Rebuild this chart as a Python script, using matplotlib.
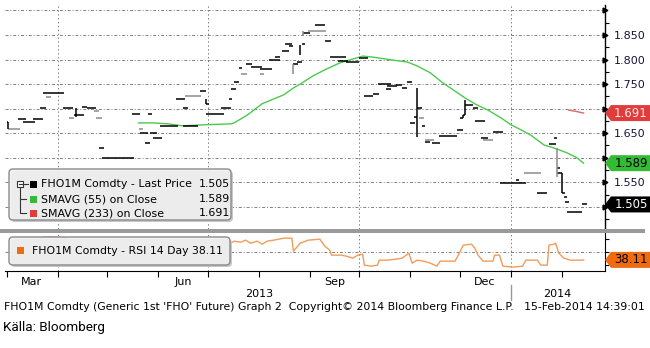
import numpy as np
import pandas as pd
import matplotlib
matplotlib.use("Agg")
from matplotlib import pyplot as plt
from matplotlib.patches import FancyBboxPatch, Rectangle, Polygon
import matplotlib.transforms as mtransforms

# FHO1M last price, drawn as short horizontal marks (gray = no trade)
seg_start = ["2013-03-01", "2013-03-02", "2013-03-08", "2013-03-11", "2013-03-17", "2013-03-21", "2013-03-23", "2013-03-25",
             "2013-04-04", "2013-04-08", "2013-04-11", "2013-04-16", "2013-04-19", "2013-04-23", "2013-04-24", "2013-04-26",
             "2013-04-28", "2013-05-16", "2013-05-20", "2013-05-21", "2013-05-24", "2013-05-26", "2013-05-27", "2013-05-29",
             "2013-06-02", "2013-06-12", "2013-06-16", "2013-06-16", "2013-06-17", "2013-06-26", "2013-06-30", "2013-06-30",
             "2013-07-09", "2013-07-14", "2013-07-15", "2013-07-17", "2013-07-20", "2013-07-21", "2013-07-24", "2013-07-27",
             "2013-08-02", "2013-08-02", "2013-08-07", "2013-08-11", "2013-08-15", "2013-08-17", "2013-08-19", "2013-08-22",
             "2013-08-24", "2013-08-27", "2013-08-28", "2013-08-31", "2013-09-04", "2013-09-10", "2013-09-13", "2013-09-18",
             "2013-09-23", "2013-10-01", "2013-10-04", "2013-10-09", "2013-10-12", "2013-10-17", "2013-10-18", "2013-10-23",
             "2013-10-27", "2013-10-30", "2013-11-01", "2013-11-03", "2013-11-05", "2013-11-06", "2013-11-08", "2013-11-10",
             "2013-11-10", "2013-11-14", "2013-11-18", "2013-11-29", "2013-12-01", "2013-12-03", "2013-12-04", "2013-12-09",
             "2013-12-10", "2013-12-14", "2013-12-15", "2013-12-21", "2013-12-25", "2014-01-04", "2014-01-05", "2014-01-09",
             "2014-01-17", "2014-01-24", "2014-01-27", "2014-01-29", "2014-01-29", "2014-02-01", "2014-02-02", "2014-02-03",
             "2014-02-04", "2014-02-13"]
seg_end = ["2013-03-02", "2013-03-09", "2013-03-13", "2013-03-18", "2013-03-23", "2013-03-25", "2013-04-05", "2013-03-28",
           "2013-04-10", "2013-04-11", "2013-04-17", "2013-04-19", "2013-04-24", "2013-04-26", "2013-04-28", "2013-04-29",
           "2013-05-17", "2013-05-21", "2013-05-23", "2013-05-26", "2013-05-27", "2013-05-28", "2013-05-31", "2013-06-03",
           "2013-06-13", "2013-06-17", "2013-06-19", "2013-06-25", "2013-06-27", "2013-06-30", "2013-07-02", "2013-07-11",
           "2013-07-15", "2013-07-16", "2013-07-18", "2013-07-20", "2013-07-22", "2013-07-25", "2013-07-28", "2013-08-03",
           "2013-08-04", "2013-08-09", "2013-08-14", "2013-08-14", "2013-08-19", "2013-08-21", "2013-08-22", "2013-08-25",
           "2013-08-27", "2013-08-29", "2013-09-01", "2013-09-11", "2013-09-10", "2013-09-14", "2013-09-23", "2013-09-24",
           "2013-10-01", "2013-10-06", "2013-10-09", "2013-10-13", "2013-10-20", "2013-10-20", "2013-10-24", "2013-10-27",
           "2013-10-30", "2013-11-02", "2013-11-04", "2013-11-05", "2013-11-08", "2013-11-09", "2013-11-10", "2013-11-13",
           "2013-11-15", "2013-11-19", "2013-11-29", "2013-12-03", "2013-12-03", "2013-12-04", "2013-12-09", "2013-12-12",
           "2013-12-16", "2013-12-18", "2013-12-21", "2013-12-27", "2014-01-05", "2014-01-06", "2014-01-10", "2014-01-19",
           "2014-01-23", "2014-01-28", "2014-01-29", "2014-01-31", "2014-02-01", "2014-02-03", "2014-02-04", "2014-02-05",
           "2014-02-13", "2014-02-16"]
seg_price = [1.673, 1.659, 1.679, 1.673, 1.679, 1.701, 1.732, 1.724,
             1.701, 1.681, 1.687, 1.703, 1.701, 1.695, 1.681, 1.620,
             1.600, 1.689, 1.659, 1.651, 1.630, 1.689, 1.651, 1.640,
             1.665, 1.720, 1.701, 1.665, 1.726, 1.736, 1.710, 1.689,
             1.701, 1.720, 1.740, 1.754, 1.783, 1.771, 1.791, 1.785,
             1.771, 1.781, 1.799, 1.805, 1.817, 1.832, 1.828, 1.791,
             1.795, 1.832, 1.854, 1.858, 1.870, 1.838, 1.805, 1.797,
             1.795, 1.803, 1.726, 1.730, 1.750, 1.740, 1.746, 1.748,
             1.742, 1.754, 1.671, 1.683, 1.701, 1.681, 1.665, 1.632,
             1.636, 1.630, 1.644, 1.657, 1.681, 1.687, 1.708, 1.701,
             1.675, 1.640, 1.636, 1.653, 1.549, 1.555, 1.549, 1.569,
             1.528, 1.628, 1.640, 1.579, 1.569, 1.528, 1.520, 1.510,
             1.490, 1.505]
seg_gray = [0, 1, 0, 0, 0, 0, 0, 1,
            0, 1, 0, 0, 0, 1, 1, 0,
            0, 0, 1, 0, 0, 0, 0, 0,
            0, 0, 0, 0, 1, 0, 0, 0,
            0, 0, 0, 0, 0, 1, 0, 0,
            1, 0, 0, 0, 0, 0, 0, 0,
            0, 0, 0, 1, 0, 0, 0, 0,
            0, 0, 0, 0, 0, 0, 0, 0,
            0, 0, 0, 0, 0, 1, 0, 0,
            1, 0, 0, 0, 0, 0, 0, 0,
            0, 0, 1, 0, 0, 0, 0, 1,
            0, 0, 0, 0, 0, 0, 0, 0,
            0, 0]

stick_date = ["2013-03-02", "2013-04-12", "2013-06-30", "2013-08-22", "2013-08-26", "2013-08-28",
              "2013-11-05", "2013-12-03", "2013-12-04", "2014-01-29", "2014-02-01"]
stick_lo = [1.659, 1.683, 1.710, 1.771, 1.809, 1.850, 1.642, 1.681, 1.687, 1.561, 1.528]
stick_hi = [1.673, 1.701, 1.720, 1.791, 1.830, 1.858, 1.742, 1.687, 1.718, 1.620, 1.569]
stick_gray = [0, 0, 0, 1, 0, 1, 0, 0, 0, 1, 0]

sma55_dates = ["2013-05-20", "2013-05-29", "2013-06-07", "2013-06-16", "2013-06-27", "2013-07-15", "2013-07-17",
               "2013-07-25", "2013-08-03", "2013-08-16", "2013-08-22", "2013-08-27", "2013-09-03", "2013-09-10",
               "2013-09-19", "2013-09-25", "2013-10-03", "2013-10-09", "2013-10-21", "2013-10-30", "2013-11-05",
               "2013-11-13", "2013-11-20", "2013-12-04", "2013-12-11", "2013-12-18", "2013-12-26", "2014-01-01",
               "2014-01-07", "2014-01-13", "2014-01-21", "2014-01-27", "2014-02-04", "2014-02-10", "2014-02-14"]
sma55_vals = [1.671, 1.671, 1.669, 1.665, 1.667, 1.669, 1.671,
              1.687, 1.710, 1.728, 1.742, 1.752, 1.767, 1.779,
              1.793, 1.799, 1.807, 1.805, 1.799, 1.795, 1.787,
              1.773, 1.754, 1.722, 1.708, 1.697, 1.681, 1.667,
              1.657, 1.646, 1.626, 1.620, 1.610, 1.600, 1.589]

sma233_dates = ["2014-02-05", "2014-02-10", "2014-02-14"]
sma233_vals = [1.697, 1.694, 1.691]

rsi_dates = ["2013-03-21", "2013-03-23", "2013-03-29", "2013-04-06", "2013-04-08", "2013-04-10", "2013-04-25",
             "2013-04-27", "2013-05-15", "2013-05-17", "2013-05-21", "2013-05-23", "2013-05-26", "2013-06-12",
             "2013-06-16", "2013-06-28", "2013-06-30", "2013-07-13", "2013-07-15", "2013-07-17", "2013-07-21",
             "2013-07-24", "2013-07-27", "2013-07-31", "2013-08-03", "2013-08-06", "2013-08-10", "2013-08-16",
             "2013-08-21", "2013-08-22", "2013-08-26", "2013-08-31", "2013-09-07", "2013-09-10", "2013-09-13",
             "2013-09-14", "2013-09-20", "2013-09-23", "2013-09-27", "2013-09-30", "2013-10-03", "2013-10-04",
             "2013-10-08", "2013-10-12", "2013-10-13", "2013-10-18", "2013-10-23", "2013-10-27", "2013-10-31",
             "2013-11-02", "2013-11-05", "2013-11-09", "2013-11-13", "2013-11-17", "2013-11-19", "2013-11-28",
             "2013-11-30", "2013-12-03", "2013-12-08", "2013-12-10", "2013-12-12", "2013-12-15", "2013-12-21",
             "2013-12-22", "2013-12-25", "2013-12-27", "2014-01-02", "2014-01-08", "2014-01-10", "2014-01-17",
             "2014-01-19", "2014-01-23", "2014-01-24", "2014-01-27", "2014-01-28", "2014-01-30", "2014-02-02",
             "2014-02-06", "2014-02-13", "2014-02-14"]
rsi_vals = [66.9, 73.1, 73.1, 71.5, 63.8, 60.8, 56.2,
            28.5, 28.5, 63.8, 63.8, 59.2, 66.9, 66.9,
            63.8, 63.8, 51.5, 51.5, 63.8, 66.9, 65.4,
            68.5, 63.8, 66.9, 62.3, 66.9, 68.5, 71.5,
            71.5, 51.5, 63.8, 68.5, 70.0, 59.2, 53.1,
            45.4, 45.4, 43.8, 40.8, 45.4, 46.9, 30.0,
            28.5, 30.0, 37.7, 37.7, 39.2, 40.8, 48.5,
            33.1, 37.7, 36.2, 33.1, 28.5, 36.2, 36.2,
            45.4, 60.8, 62.3, 56.2, 45.4, 36.2, 36.2,
            45.4, 45.4, 28.5, 26.9, 28.5, 37.7, 37.7,
            30.0, 30.0, 60.8, 62.3, 63.8, 48.5, 40.8,
            37.7, 37.7, 38.11]

price_ticks = [1.50, 1.55, 1.60, 1.65, 1.70, 1.75, 1.80, 1.85, 1.90]
# 1.500 / 1.600 / 1.700 sit under the value tags
price_labels = ["", "1.550", "", "1.650", "", "1.750", "1.800", "1.850", ""]
grid_dates = ["2013-04-01", "2013-07-01", "2013-10-01", "2014-01-01"]
month_label_dates = ["2013-03-16", "2013-06-16", "2013-09-16", "2013-12-16"]
month_labels = ["Mar", "Jun", "Sep", "Dec"]

W, H = 650, 348
ident = mtransforms.IdentityTransform()
fig = plt.figure(figsize=(W / 100, H / 100), dpi=100)
fig.patch.set_facecolor("white")

ax = fig.add_axes([5 / W, 1 - 229 / H, 600 / W, 224 / H])
ax2 = fig.add_axes([5 / W, 1 - 271 / H, 600 / W, 38 / H], sharex=ax)

dash_dot = (0, (3, 2, 1, 2))
dots = (0, (1.5, 2.5))

# --- main panel
for v in price_ticks:
    ax.axhline(v, color="#808080", lw=0.7, ls=dash_dot, zorder=1)
for d in grid_dates:
    ax.axvline(pd.Timestamp(d), color="#808080", lw=0.7, ls=dots, zorder=1)
    ax2.axvline(pd.Timestamp(d), color="#808080", lw=0.7, ls=dots, zorder=1)

seg_cols = ["#8c8c8c" if g else "black" for g in seg_gray]
ax.hlines(seg_price, pd.to_datetime(seg_start), pd.to_datetime(seg_end), colors=seg_cols, lw=1.1, zorder=3)
stick_cols = ["#8c8c8c" if g else "black" for g in stick_gray]
ax.vlines(pd.to_datetime(stick_date), stick_lo, stick_hi, colors=stick_cols, lw=1.1, zorder=3)
ax.plot(pd.to_datetime(sma55_dates), sma55_vals, color="#4cc94c", lw=1.0, zorder=2)
ax.plot(pd.to_datetime(sma233_dates), sma233_vals, color="#e06666", lw=1.0, zorder=2)

ax.set_xlim(pd.Timestamp("2013-02-28"), pd.Timestamp("2014-02-27"))
ax.set_ylim(1.455, 1.911)
ax.yaxis.tick_right()
ax.set_yticks(price_ticks)
ax.set_yticklabels(price_labels)
ax.set_yticks([1.475, 1.525, 1.575, 1.625, 1.675, 1.725, 1.775, 1.825, 1.875], minor=True)
ax.tick_params(axis="y", which="major", length=0, pad=6, labelsize=8, labelcolor="#14143c")
ax.tick_params(axis="y", which="minor", length=3, width=0.8, direction="out")
ax.tick_params(axis="x", which="both", bottom=False, labelbottom=False)
for s in ["top", "left", "bottom"]:
    ax.spines[s].set_visible(False)
ax.spines["right"].set_linewidth(1.0)
ax.plot([1.0] * len(price_ticks), price_ticks, ">", ms=3.5, color="black",
        transform=ax.get_yaxis_transform(), clip_on=False, zorder=5)

# --- RSI panel
ax2.axhline(50, color="#808080", lw=0.7, ls=dash_dot, zorder=1)
ax2.plot(pd.to_datetime(rsi_dates), rsi_vals, color="#f29b5a", lw=1.0, zorder=3)
ax2.set_ylim(21, 79.5)
ax2.yaxis.tick_right()
ax2.set_yticks([30, 50, 70])
ax2.set_yticklabels(["", "", ""])
ax2.tick_params(axis="y", length=3, width=0.8, direction="out")
for s in ["top", "left"]:
    ax2.spines[s].set_visible(False)
ax2.set_xticks(pd.date_range("2013-03-01", "2014-02-01", freq="MS"))
ax2.set_xticklabels([])
ax2.set_xticks(pd.to_datetime(month_label_dates), minor=True)
ax2.set_xticklabels(month_labels, minor=True)
ax2.tick_params(axis="x", which="major", length=4, width=0.8, direction="out")
ax2.tick_params(axis="x", which="minor", length=0, pad=4, labelsize=8)

xt = ax2.get_xaxis_transform()
ax2.text(pd.Timestamp("2013-08-01"), -0.6, "2013", transform=xt, ha="center", va="center", fontsize=8)
ax2.text(pd.Timestamp("2014-01-29"), -0.6, "2014", transform=xt, ha="center", va="center", fontsize=8)
ax2.plot([pd.Timestamp("2014-01-01")] * 2, [-0.37, -0.76], transform=xt, color="#999999", lw=1, clip_on=False)

# gray band between panels
fig.add_artist(Rectangle((0, H - 233), 645, 4, transform=ident, fc="#9a9a9a", ec="none", zorder=4))


def tag(a, y, text, fc, tc):
    xd, yd = a.transData.transform((a.get_xlim()[1], y))
    pts = [(xd, yd), (xd + 6, yd + 8), (xd + 46, yd + 8), (xd + 46, yd - 8), (xd + 6, yd - 8)]
    fig.add_artist(Polygon(pts, closed=True, transform=ident, fc=fc, ec="none", zorder=10))
    fig.text(xd + 26, yd, text, transform=ident, ha="center", va="center", fontsize=8.5, color=tc, zorder=11)


tag(ax, 1.691, "1.691", "#e03c3c", "#ffe8e8")
tag(ax, 1.589, "1.589", "#33bb33", "black")
tag(ax, 1.505, "1.505", "black", "white")
tag(ax2, 38.11, "38.11", "#f06a10", "black")


def legend_box(x0, y0, x1, y1):
    fig.add_artist(FancyBboxPatch((x0 + 2, H - y1 - 2), x1 - x0, y1 - y0, boxstyle="round,pad=0,rounding_size=4",
                                  transform=ident, fc="#c8c8c8", ec="none", zorder=6))
    fig.add_artist(FancyBboxPatch((x0, H - y1), x1 - x0, y1 - y0, boxstyle="round,pad=0,rounding_size=4",
                                  transform=ident, fc=(0.95, 0.95, 0.95, 0.88), ec="#8a8a8a", lw=1, zorder=7))


legend_box(9, 169, 231, 220)
rows = [("FHO1M Comdty - Last Price", "1.505", "black", 184),
        ("SMAVG (55) on Close", "1.589", "#33bb33", 199),
        ("SMAVG (233) on Close", "1.691", "#e03c3c", 213)]
for label, val, col, yy in rows:
    fig.add_artist(Rectangle((30, H - yy - 3.5), 7, 7, transform=ident, fc=col, ec="none", zorder=8))
    fig.text(41, H - yy, label, transform=ident, va="center", fontsize=7.9, zorder=8)
    fig.text(230, H - yy, val, transform=ident, va="center", ha="right", fontsize=7.9, zorder=8)
# tree symbol
fig.add_artist(Rectangle((17, H - 187), 6, 6, transform=ident, fc="white", ec="#333333", lw=0.8, zorder=8))
fig.add_artist(plt.Line2D([18.5, 21.5], [H - 184, H - 184], transform=ident, color="#333333", lw=0.8, zorder=8))
fig.add_artist(plt.Line2D([20, 20, 26], [H - 187, H - 213, H - 213], transform=ident, color="#333333", lw=0.8, zorder=8))
fig.add_artist(plt.Line2D([20, 26], [H - 199, H - 199], transform=ident, color="#333333", lw=0.8, zorder=8))
fig.add_artist(plt.Line2D([23, 28], [H - 184, H - 184], transform=ident, color="#333333", lw=0.8, zorder=8))

legend_box(9, 237, 230, 265)
fig.add_artist(Rectangle((17, H - 254), 7, 7, transform=ident, fc="#f06a10", ec="none", zorder=8))
fig.text(32, H - 251, "FHO1M Comdty - RSI 14 Day 38.11", transform=ident, va="center", fontsize=7.8, zorder=8)

# footer
fig.text(4, H - 307, "FHO1M Comdty (Generic 1st 'FHO' Future) Graph 2  Copyright\u00a9 2014 Bloomberg Finance L.P.   15-Feb-2014 14:39:01",
         transform=ident, va="center", fontsize=7.8)
fig.text(3, H - 327, "Källa: Bloomberg", transform=ident, va="center", fontsize=9.7, family="Roboto")

fig.savefig("out.png", dpi=100)
